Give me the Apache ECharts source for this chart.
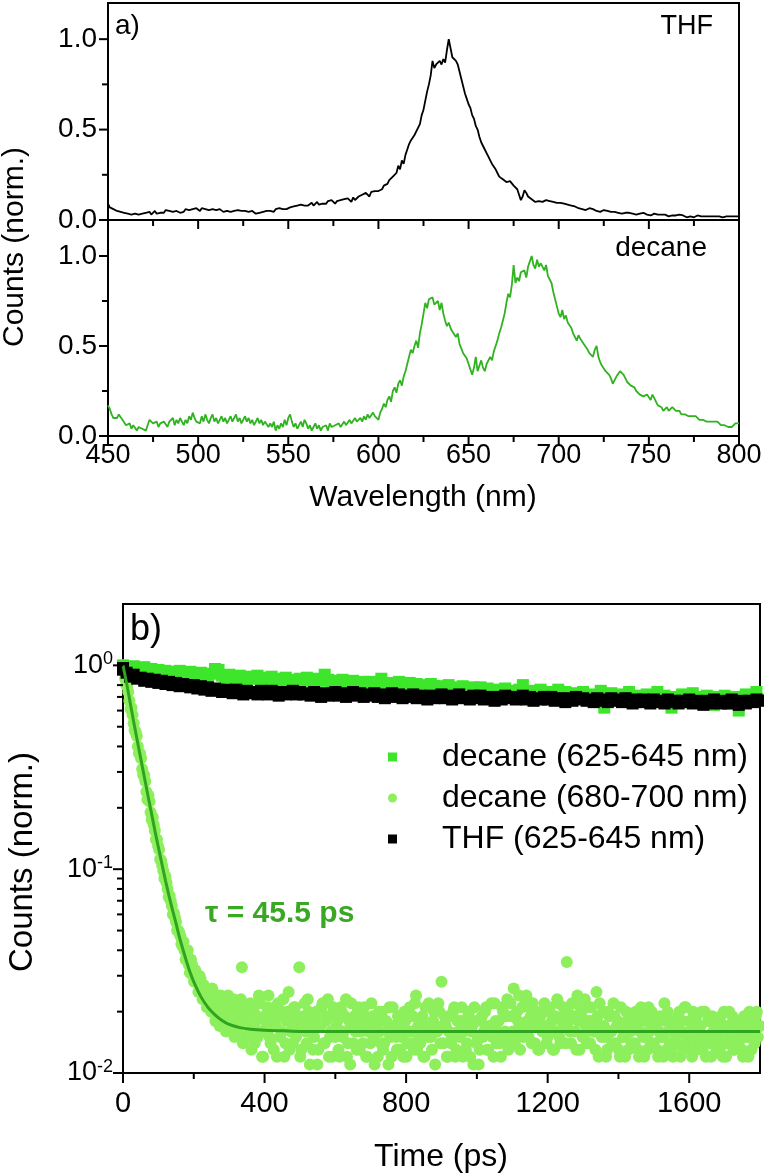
<!DOCTYPE html>
<html><head><meta charset="utf-8">
<script src="https://cdn.jsdelivr.net/npm/echarts@6.0.0/dist/echarts.min.js"></script>
<style>html,body{margin:0;padding:0;background:#fff}#c{width:764px;height:1175px}</style>
</head><body><div id="c"></div>
<script>
// ---------- data ----------
const wlStart = 450, wlStep = 1;
const thfSpectrum = [
0.09,0.07,0.075,0.06,0.065,0.05,0.055,0.045,0.05,0.04,
0.045,0.035,0.04,0.03,0.04,0.035,0.045,0.03,0.04,0.035,
0.03,0.04,0.035,0.045,0.03,0.04,0.05,0.035,0.045,0.04,
0.05,0.04,0.055,0.045,0.05,0.04,0.045,0.035,0.05,0.045,
0.04,0.05,0.045,0.06,0.05,0.055,0.045,0.06,0.055,0.065,
0.06,0.05,0.065,0.055,0.06,0.05,0.055,0.045,0.06,0.05,
0.055,0.045,0.06,0.05,0.045,0.055,0.05,0.06,0.045,0.055,
0.05,0.06,0.055,0.045,0.05,0.06,0.05,0.055,0.045,0.04,
0.05,0.045,0.035,0.045,0.04,0.05,0.045,0.04,0.05,0.045,
0.05,0.055,0.045,0.06,0.05,0.065,0.055,0.06,0.07,0.06,
0.065,0.07,0.06,0.075,0.07,0.08,0.07,0.085,0.075,0.08,
0.09,0.08,0.085,0.095,0.08,0.09,0.1,0.085,0.095,0.09,
0.1,0.09,0.105,0.095,0.11,0.1,0.09,0.105,0.095,0.11,
0.1,0.115,0.105,0.12,0.11,0.1,0.125,0.11,0.12,0.13,
0.125,0.14,0.13,0.15,0.14,0.13,0.155,0.145,0.16,0.15,
0.16,0.15,0.17,0.19,0.18,0.2,0.22,0.21,0.24,0.23,
0.26,0.3,0.28,0.33,0.31,0.36,0.39,0.42,0.44,0.43,
0.47,0.49,0.5,0.53,0.58,0.61,0.66,0.71,0.75,0.8,
0.88,0.84,0.86,0.85,0.88,0.86,0.89,0.87,0.94,1.0,
0.95,0.9,0.91,0.88,0.86,0.82,0.78,0.74,0.7,0.67,
0.64,0.62,0.58,0.56,0.52,0.5,0.46,0.43,0.42,0.39,
0.37,0.35,0.33,0.31,0.3,0.28,0.26,0.24,0.23,0.225,
0.22,0.21,0.2,0.215,0.205,0.19,0.185,0.17,0.14,0.11,
0.13,0.165,0.15,0.13,0.12,0.115,0.12,0.1,0.11,0.105,
0.11,0.1,0.105,0.11,0.1,0.105,0.095,0.1,0.09,0.095,
0.09,0.095,0.085,0.09,0.08,0.085,0.075,0.08,0.07,0.075,
0.07,0.065,0.07,0.06,0.065,0.055,0.06,0.065,0.055,0.06,
0.055,0.05,0.055,0.045,0.05,0.055,0.045,0.05,0.04,0.045,
0.04,0.045,0.035,0.04,0.045,0.035,0.045,0.04,0.05,0.04,
0.045,0.035,0.04,0.03,0.04,0.035,0.03,0.04,0.035,0.03,
0.035,0.025,0.03,0.035,0.025,0.03,0.02,0.03,0.025,0.03,
0.025,0.02,0.03,0.025,0.015,0.025,0.02,0.03,0.02,0.025,
0.02,0.015,0.025,0.02,0.025,0.015,0.02,0.025,0.015,0.02,
0.025,0.02,0.015,0.02,0.025,0.02,0.015,0.02,0.025,0.02,
0.02,0.015,0.025,0.02,0.015,0.02,0.025,0.02,0.015,0.02,
0.02];
const decaneSpectrum = [
0.17,0.15,0.12,0.1,0.09,0.1,0.12,0.11,0.09,0.08,
0.06,0.05,0.07,0.04,0.06,0.05,0.03,0.05,0.06,0.04,
0.05,0.03,0.06,0.09,0.08,0.07,0.06,0.08,0.05,0.07,
0.06,0.08,0.07,0.05,0.08,0.07,0.1,0.06,0.09,0.07,
0.1,0.08,0.06,0.09,0.07,0.11,0.09,0.13,0.1,0.08,
0.09,0.07,0.11,0.08,0.12,0.09,0.07,0.1,0.12,0.08,
0.1,0.07,0.09,0.11,0.08,0.1,0.07,0.09,0.11,0.08,
0.1,0.12,0.08,0.1,0.07,0.09,0.11,0.08,0.1,0.07,
0.09,0.06,0.08,0.1,0.07,0.09,0.06,0.08,0.07,0.05,
0.07,0.05,0.08,0.03,0.06,0.04,0.07,0.05,0.09,0.06,
0.1,0.12,0.08,0.05,0.07,0.04,0.06,0.08,0.05,0.09,
0.07,0.04,0.06,0.03,0.05,0.07,0.04,0.06,0.03,0.05,
0.04,0.06,0.03,0.07,0.05,0.04,0.06,0.05,0.07,0.05,
0.06,0.08,0.06,0.07,0.09,0.07,0.08,0.1,0.08,0.09,
0.1,0.08,0.11,0.09,0.12,0.1,0.11,0.13,0.11,0.12,
0.09,0.13,0.15,0.18,0.16,0.2,0.22,0.19,0.25,0.27,
0.24,0.29,0.31,0.28,0.33,0.36,0.4,0.44,0.48,0.46,
0.5,0.53,0.49,0.57,0.62,0.68,0.74,0.71,0.76,0.75,
0.77,0.73,0.72,0.75,0.7,0.74,0.68,0.64,0.61,0.63,
0.6,0.58,0.59,0.55,0.57,0.51,0.5,0.46,0.47,0.43,
0.4,0.37,0.34,0.38,0.44,0.36,0.35,0.42,0.38,0.36,
0.4,0.41,0.44,0.42,0.47,0.5,0.53,0.57,0.6,0.64,
0.68,0.74,0.79,0.77,0.84,0.95,0.85,0.88,0.86,0.91,
0.9,0.92,0.88,0.94,0.97,1.0,0.95,0.93,0.98,0.94,
0.96,0.97,0.92,0.95,0.89,0.9,0.85,0.8,0.79,0.72,
0.68,0.66,0.7,0.65,0.67,0.63,0.64,0.6,0.57,0.55,
0.53,0.56,0.54,0.55,0.51,0.52,0.48,0.46,0.47,0.44,
0.48,0.5,0.44,0.41,0.39,0.38,0.36,0.37,0.34,0.32,
0.29,0.31,0.33,0.34,0.36,0.37,0.34,0.32,0.3,0.31,
0.28,0.29,0.27,0.25,0.26,0.23,0.24,0.22,0.21,0.23,
0.22,0.2,0.23,0.21,0.19,0.17,0.18,0.16,0.14,0.15,
0.16,0.14,0.15,0.16,0.15,0.14,0.13,0.14,0.12,0.13,
0.12,0.13,0.11,0.12,0.11,0.1,0.11,0.1,0.09,0.1,
0.09,0.1,0.08,0.09,0.08,0.07,0.08,0.07,0.08,0.07,
0.06,0.07,0.06,0.07,0.05,0.06,0.05,0.06,0.07,0.06,
0.07];

const sqStart = 0, sqStep = 10;
const thfSquares = [
0.97,0.92,0.88,0.9,0.86,0.87,0.84,0.86,0.83,0.85,
0.82,0.84,0.81,0.83,0.8,0.82,0.79,0.81,0.8,0.78,
0.8,0.77,0.79,0.76,0.78,0.75,0.77,0.76,0.74,0.76,
0.75,0.73,0.76,0.74,0.72,0.75,0.73,0.74,0.72,0.75,
0.74,0.72,0.75,0.73,0.71,0.74,0.72,0.73,0.75,0.72,
0.74,0.72,0.73,0.71,0.74,0.72,0.7,0.73,0.71,0.72,
0.74,0.71,0.73,0.7,0.72,0.74,0.71,0.73,0.7,0.72,
0.71,0.73,0.7,0.72,0.69,0.71,0.73,0.7,0.72,0.69,
0.71,0.7,0.72,0.69,0.71,0.7,0.68,0.71,0.69,0.7,
0.72,0.69,0.71,0.68,0.7,0.72,0.69,0.7,0.68,0.71,
0.69,0.71,0.68,0.7,0.69,0.67,0.7,0.68,0.71,0.69,
0.7,0.68,0.69,0.71,0.68,0.7,0.67,0.69,0.68,0.7,
0.68,0.7,0.67,0.69,0.68,0.66,0.69,0.67,0.7,0.68,
0.69,0.67,0.68,0.66,0.69,0.67,0.68,0.66,0.69,0.67,
0.68,0.66,0.69,0.67,0.65,0.68,0.66,0.68,0.67,0.65,
0.68,0.66,0.67,0.65,0.68,0.66,0.67,0.65,0.67,0.66,
0.68,0.65,0.67,0.66,0.64,0.67,0.65,0.68,0.66,0.65,
0.67,0.65,0.68,0.66,0.64,0.67,0.65,0.67,0.66,0.68,
0.67];
const decaneSquares = [
1.0,0.98,0.96,0.99,0.97,0.95,0.98,0.94,0.96,0.93,
0.95,0.92,0.94,0.9,0.93,0.91,0.94,0.92,0.9,0.93,
0.91,0.89,0.92,0.9,0.88,0.91,0.96,0.95,0.89,0.87,
0.9,0.88,0.86,0.89,0.87,0.85,0.88,0.86,0.89,0.84,
0.87,0.85,0.88,0.83,0.86,0.84,0.87,0.85,0.78,0.8,
0.86,0.84,0.87,0.85,0.83,0.86,0.84,0.9,0.85,0.82,
0.84,0.81,0.85,0.83,0.8,0.84,0.82,0.79,0.83,0.81,
0.83,0.8,0.82,0.86,0.81,0.79,0.82,0.8,0.83,0.78,
0.8,0.82,0.79,0.81,0.77,0.8,0.78,0.81,0.79,0.76,
0.79,0.77,0.8,0.76,0.78,0.75,0.79,0.77,0.74,0.78,
0.76,0.78,0.74,0.77,0.75,0.72,0.76,0.74,0.77,0.73,
0.75,0.73,0.76,0.8,0.74,0.71,0.75,0.73,0.76,0.72,
0.74,0.7,0.73,0.76,0.71,0.74,0.72,0.69,0.73,0.71,
0.74,0.7,0.72,0.68,0.71,0.75,0.62,0.7,0.73,0.69,
0.72,0.68,0.71,0.74,0.69,0.66,0.71,0.69,0.72,0.67,
0.7,0.74,0.68,0.71,0.67,0.62,0.7,0.68,0.72,0.66,
0.69,0.73,0.67,0.7,0.66,0.71,0.68,0.64,0.7,0.67,
0.71,0.68,0.65,0.7,0.6,0.69,0.72,0.67,0.7,0.74,
0.68];

// decane 680-700 nm, even time bins (t = 0, 6, 12, ...)
const circStart = 0, circStep = 6;
const decaneCircles = [
1.0,0.86,0.79,0.67,0.62,0.52,0.47,0.4,0.37,0.31,
0.29,0.24,0.23,0.19,0.18,0.155,0.14,0.125,0.11,0.098,
0.092,0.08,0.074,0.066,0.061,0.055,0.05,0.047,0.042,0.04,
0.038,0.034,0.036,0.03,0.032,0.028,0.03,0.026,0.027,0.024,
0.025,0.022,0.026,0.02,0.023,0.019,0.024,0.021,0.018,0.022,
0.02,0.017,0.023,0.019,0.016,0.021,0.033,0.018,0.015,0.02,
0.022,0.017,0.014,0.019,0.024,0.016,0.012,0.018,0.021,0.015,
0.019,0.013,0.017,0.022,0.015,0.02,0.012,0.018,0.025,0.016,
0.014,0.021,0.017,0.033,0.013,0.019,0.016,0.023,0.011,0.018,
0.015,0.02,0.013,0.017,0.022,0.014,0.019,0.012,0.016,0.021,
0.015,0.018,0.012,0.02,0.016,0.023,0.014,0.011,0.017,0.019,
0.013,0.021,0.016,0.014,0.019,0.012,0.017,0.022,0.015,0.018,
0.012,0.016,0.02,0.014,0.018,0.011,0.015,0.021,0.017,0.013,
0.019,0.015,0.012,0.018,0.014,0.021,0.016,0.013,0.024,0.017,
0.014,0.019,0.012,0.016,0.022,0.015,0.018,0.011,0.016,0.02,
0.028,0.014,0.017,0.012,0.019,0.015,0.021,0.013,0.016,0.018,
0.012,0.017,0.014,0.02,0.016,0.011,0.018,0.015,0.013,0.019,
0.016,0.021,0.013,0.017,0.015,0.022,0.014,0.018,0.012,0.02,
0.016,0.023,0.014,0.019,0.026,0.015,0.018,0.013,0.021,0.017,
0.024,0.015,0.019,0.022,0.014,0.018,0.013,0.02,0.016,0.017,
0.015,0.021,0.018,0.013,0.016,0.022,0.014,0.019,0.017,0.035,
0.018,0.014,0.022,0.016,0.024,0.013,0.019,0.015,0.017,0.021,
0.014,0.018,0.016,0.025,0.012,0.017,0.02,0.015,0.013,0.019,
0.016,0.022,0.014,0.018,0.012,0.017,0.015,0.02,0.013,0.016,
0.019,0.014,0.017,0.012,0.021,0.015,0.018,0.013,0.016,0.02,
0.014,0.017,0.012,0.019,0.015,0.022,0.013,0.016,0.018,0.012,
0.017,0.014,0.02,0.016,0.013,0.021,0.015,0.018,0.012,0.016,
0.019,0.014,0.017,0.013,0.02,0.015,0.018,0.012,0.016,0.014,
0.018,0.013,0.016,0.02,0.012,0.017,0.015,0.019,0.013,0.016,
0.014,0.018,0.012,0.017,0.015,0.02,0.013,0.016,0.019,0.015,
0.017];
// decane 680-700 nm, odd time bins (t = 3, 9, 15, ...)
const circOddStart = 3;
const decaneCirclesOdd = [
0.93,0.8,0.74,0.61,0.57,0.48,0.45,0.37,0.35,0.29,
0.27,0.22,0.215,0.175,0.165,0.14,0.13,0.112,0.104,0.09,
0.086,0.073,0.07,0.06,0.058,0.05,0.049,0.043,0.044,0.036,
0.04,0.031,0.034,0.028,0.03,0.025,0.029,0.023,0.026,0.021,
0.023,0.02,0.025,0.018,0.022,0.017,0.021,0.019,0.016,0.024,
0.018,0.022,0.015,0.02,0.017,0.023,0.014,0.019,0.021,0.016,
0.013,0.02,0.018,0.015,0.022,0.012,0.019,0.016,0.024,0.014,
0.017,0.021,0.012,0.019,0.016,0.023,0.014,0.02,0.013,0.018,
0.021,0.015,0.019,0.012,0.017,0.022,0.014,0.02,0.016,0.013,
0.019,0.011,0.017,0.021,0.014,0.018,0.023,0.015,0.012,0.019,
0.017,0.013,0.021,0.015,0.019,0.012,0.018,0.022,0.014,0.016,
0.02,0.013,0.018,0.021,0.012,0.016,0.014,0.019,0.011,0.017,
0.02,0.014,0.013,0.018,0.016,0.021,0.012,0.017,0.015,0.019,
0.013,0.017,0.02,0.012,0.016,0.014,0.019,0.022,0.013,0.015,
0.018,0.012,0.021,0.015,0.017,0.013,0.02,0.016,0.022,0.014,
0.017,0.019,0.012,0.016,0.014,0.02,0.012,0.018,0.015,0.021,
0.016,0.013,0.019,0.012,0.017,0.021,0.014,0.011,0.018,0.015,
0.02,0.013,0.017,0.022,0.012,0.018,0.016,0.014,0.021,0.015,
0.019,0.013,0.022,0.016,0.014,0.02,0.024,0.017,0.015,0.023,
0.018,0.021,0.014,0.017,0.02,0.013,0.019,0.016,0.022,0.014,
0.02,0.016,0.013,0.019,0.023,0.015,0.018,0.021,0.014,0.02,
0.016,0.022,0.019,0.013,0.018,0.021,0.015,0.023,0.014,0.018,
0.021,0.016,0.013,0.019,0.022,0.015,0.017,0.012,0.02,0.016,
0.014,0.019,0.017,0.013,0.021,0.015,0.012,0.018,0.016,0.014,
0.017,0.02,0.013,0.016,0.019,0.012,0.015,0.021,0.014,0.017,
0.019,0.013,0.016,0.015,0.012,0.018,0.02,0.014,0.013,0.017,
0.015,0.019,0.012,0.018,0.021,0.014,0.016,0.013,0.02,0.015,
0.013,0.017,0.02,0.015,0.012,0.018,0.014,0.019,0.016,0.013,
0.015,0.019,0.012,0.017,0.014,0.02,0.016,0.013,0.018,0.015,
0.017,0.013,0.019,0.015,0.012,0.018,0.016,0.014,0.02,0.017];

const fitTime = [0,10,20,30,40,50,60,70,80,90,100,110,120,130,140,150,160,170,180,190,200,220,240,260,280,300,330,360,400,450,500,600,800,1000,1200,1400,1600,1800];
const fitValue = [1.0,0.82,0.66,0.53,0.43,0.35,0.285,0.232,0.19,0.155,0.128,0.106,0.088,0.074,0.063,0.054,0.046,0.04,0.035,0.031,0.028,0.0237,0.021,0.0193,0.0181,0.0173,0.0167,0.0164,0.0162,0.0161,0.016,0.016,0.016,0.016,0.016,0.016,0.016,0.016];

// tick values
const specXTicks = [450,475,500,525,550,575,600,625,650,675,700,725,750,775,800];
const specYTicks = [0,0.25,0.5,0.75,1.0];
const specYLabels = [0,0.5,1.0];
const timeTicks = [0,200,400,600,800,1000,1200,1400,1600];
const timeLabels = [0,400,800,1200,1600];
const logTicks = [0.01,0.02,0.03,0.04,0.05,0.06,0.07,0.08,0.09,0.1,0.2,0.3,0.4,0.5,0.6,0.7,0.8,0.9,1];

const legendNames = ['decane (625-645 nm)', 'decane (680-700 nm)', 'THF (625-645 nm)'];

// ---------- build ----------
const FF = '"Liberation Sans", Arial, sans-serif';
const pairs = (arr, start, step) => arr.map((v, i) => [start + i * step, v]);
const isPow10 = v => Math.abs(Math.log10(v) - Math.round(Math.log10(v))) < 1e-9;
const isMult = (v, m) => Math.abs(v / m - Math.round(v / m)) < 1e-9;

// tick marks as data: [x, y, kind(0=x tick,1=y tick), major(1/0)]
function tickData(xVals, yVals, xMin, yMin, xMajor, yMajor) {
  const d = [];
  xVals.forEach(v => d.push([v, yMin, 0, xMajor(v) ? 1 : 0]));
  yVals.forEach(v => d.push([xMin, v, 1, yMajor(v) ? 1 : 0]));
  return d;
}
function tickRender(majLen, minLen) {
  return (params, api) => {
    const p = api.coord([api.value(0), api.value(1)]);
    const len = api.value(3) ? majLen : minLen;
    const shape = api.value(2) === 0
      ? {x1: p[0], y1: p[1], x2: p[0], y2: p[1] + len}
      : {x1: p[0] - len, y1: p[1], x2: p[0], y2: p[1]};
    return {type: 'line', shape, style: {stroke: '#000', lineWidth: 2}};
  };
}

const chart = echarts.init(document.getElementById('c'), null, {renderer: 'canvas'});

function specX(gridIndex, showLabels) {
  return {
    type: 'value', gridIndex, min: 450, max: 800, interval: 50, position: 'bottom',
    axisLine: {show: true, onZero: false, lineStyle: {color: '#000', width: 2}},
    axisTick: {show: false},
    axisLabel: {show: showLabels, color: '#000', fontSize: 27, fontFamily: FF, margin: 6},
    splitLine: {show: false}
  };
}
function specY(gridIndex) {
  return {
    type: 'value', gridIndex, min: 0, max: 1.2, position: 'left',
    axisLine: {show: true, onZero: false, lineStyle: {color: '#000', width: 2}},
    axisTick: {show: false},
    axisLabel: {show: true, customValues: specYLabels, color: '#000', fontSize: 28, fontFamily: FF, margin: 11,
      formatter: v => Number(v).toFixed(1)},
    splitLine: {show: false}
  };
}
const gridBase = {show: true, borderColor: '#000', borderWidth: 2, containLabel: false, outerBoundsMode: 'none'};

const option = {
  animation: false,
  backgroundColor: '#fff',
  textStyle: {fontFamily: FF},
  grid: [
    Object.assign({left: 108, right: 25, top: 3, height: 217}, gridBase),
    Object.assign({left: 108, right: 25, top: 220, height: 216}, gridBase),
    Object.assign({left: 123, right: 4, top: 604, height: 469}, gridBase)
  ],
  xAxis: [
    specX(0, false),
    specX(1, true),
    {
      type: 'value', gridIndex: 2, min: 0, max: 1800, position: 'bottom',
      axisLine: {show: true, onZero: false, lineStyle: {color: '#000', width: 2}},
      axisTick: {show: false},
      axisLabel: {show: true, customValues: timeLabels, color: '#000', fontSize: 29, fontFamily: FF, margin: 16,
        formatter: v => String(v)},
      splitLine: {show: false}
    }
  ],
  yAxis: [
    specY(0), specY(1),
    {
      type: 'log', logBase: 10, gridIndex: 2, min: 0.01, max: 2, position: 'left',
      axisLine: {show: true, onZero: false, lineStyle: {color: '#000', width: 2}},
      axisTick: {show: false},
      axisLabel: {show: true, showMaxLabel: false, color: '#000', fontSize: 27, fontFamily: FF, margin: 10,
        formatter: v => isPow10(v) ? '{b|10}{s|' + Math.round(Math.log10(v)) + '}' : '',
        rich: {
          b: {fontSize: 27, fontFamily: FF, color: '#000', lineHeight: 30},
          s: {fontSize: 18, fontFamily: FF, color: '#000', verticalAlign: 'top', lineHeight: 18}
        }},
      splitLine: {show: false}
    }
  ],
  legend: {
    show: true, orient: 'vertical', left: 383, top: 736,
    itemWidth: 9, itemHeight: 9, itemGap: 9, selectedMode: false,
    textStyle: {fontSize: 32, fontFamily: FF, color: '#000', lineHeight: 32, padding: [0, 0, 0, 40]},
    data: [
      {name: legendNames[0], icon: 'rect'},
      {name: legendNames[1], icon: 'circle'},
      {name: legendNames[2], icon: 'rect'}
    ]
  },
  series: [
    {
      name: 'THF', type: 'line', xAxisIndex: 0, yAxisIndex: 0, showSymbol: false,
      data: pairs(thfSpectrum, wlStart, wlStep),
      lineStyle: {color: '#000', width: 1.8}, itemStyle: {color: '#000'}
    },
    {
      name: 'decane', type: 'line', xAxisIndex: 1, yAxisIndex: 1, showSymbol: false,
      data: pairs(decaneSpectrum, wlStart, wlStep),
      lineStyle: {color: '#2fb31f', width: 1.8}, itemStyle: {color: '#2fb31f'}
    },
    {
      name: legendNames[1], type: 'scatter', xAxisIndex: 2, yAxisIndex: 2,
      symbol: 'circle', symbolSize: 12,
      data: pairs(decaneCircles, circStart, circStep).concat(pairs(decaneCirclesOdd, circOddStart, circStep)),
      itemStyle: {color: '#8def5c', opacity: 1}
    },
    {
      name: 'fit', type: 'line', xAxisIndex: 2, yAxisIndex: 2, showSymbol: false, smooth: 0.3,
      data: fitTime.map((t, i) => [t, fitValue[i]]),
      lineStyle: {color: '#2ea41f', width: 3}, itemStyle: {color: '#2ea41f'}
    },
    {
      name: legendNames[0], type: 'scatter', xAxisIndex: 2, yAxisIndex: 2,
      symbol: 'rect', symbolSize: 12,
      data: pairs(decaneSquares, sqStart, sqStep),
      itemStyle: {color: '#3de62a', opacity: 1}
    },
    {
      name: legendNames[2], type: 'scatter', xAxisIndex: 2, yAxisIndex: 2,
      symbol: 'rect', symbolSize: 12,
      data: pairs(thfSquares, sqStart, sqStep),
      itemStyle: {color: '#000', opacity: 1}
    },
    {
      name: 'ticksA', type: 'custom', xAxisIndex: 0, yAxisIndex: 0, clip: false, silent: true, z: 10,
      data: tickData(specXTicks, specYTicks, 450, 0, v => isMult(v, 50), v => isMult(v, 0.5)),
      renderItem: tickRender(9, 6)
    },
    {
      name: 'ticksB', type: 'custom', xAxisIndex: 1, yAxisIndex: 1, clip: false, silent: true, z: 10,
      data: tickData(specXTicks, specYTicks, 450, 0, v => isMult(v, 50), v => isMult(v, 0.5)),
      renderItem: tickRender(9, 6)
    },
    {
      name: 'ticksC', type: 'custom', xAxisIndex: 2, yAxisIndex: 2, clip: false, silent: true, z: 10,
      data: tickData(timeTicks, logTicks, 0, 0.01, v => isMult(v, 400), isPow10),
      renderItem: tickRender(10, 6)
    }
  ],
  graphic: [
    {type: 'text', x: 115, y: 26, style: {text: 'a)', font: '28px ' + FF, fill: '#000', align: 'left', verticalAlign: 'middle'}},
    {type: 'text', x: 713, y: 27, style: {text: 'THF', font: '27px ' + FF, fill: '#000', align: 'right', verticalAlign: 'middle'}},
    {type: 'text', x: 707, y: 248, style: {text: 'decane', font: '28px ' + FF, fill: '#000', align: 'right', verticalAlign: 'middle'}},
    {type: 'text', x: 423, y: 498, style: {text: 'Wavelength (nm)', font: '30px ' + FF, fill: '#000', align: 'center', verticalAlign: 'middle'}},
    {type: 'text', x: 15, y: 247, rotation: Math.PI / 2, style: {text: 'Counts (norm.)', font: '30px ' + FF, fill: '#000', align: 'center', verticalAlign: 'middle'}},
    {type: 'text', x: 130, y: 630, style: {text: 'b)', font: '36px ' + FF, fill: '#000', align: 'left', verticalAlign: 'middle'}},
    {type: 'text', x: 205, y: 914, style: {text: 'τ = 45.5 ps', font: 'bold 30px ' + FF, fill: '#3aa825', align: 'left', verticalAlign: 'middle'}},
    {type: 'text', x: 441, y: 1157, style: {text: 'Time (ps)', font: '32px ' + FF, fill: '#000', align: 'center', verticalAlign: 'middle'}},
    {type: 'text', x: 23, y: 862, rotation: Math.PI / 2, style: {text: 'Counts (norm.)', font: '33px ' + FF, fill: '#000', align: 'center', verticalAlign: 'middle'}}
  ]
};
chart.setOption(option);
</script>
</body></html>
